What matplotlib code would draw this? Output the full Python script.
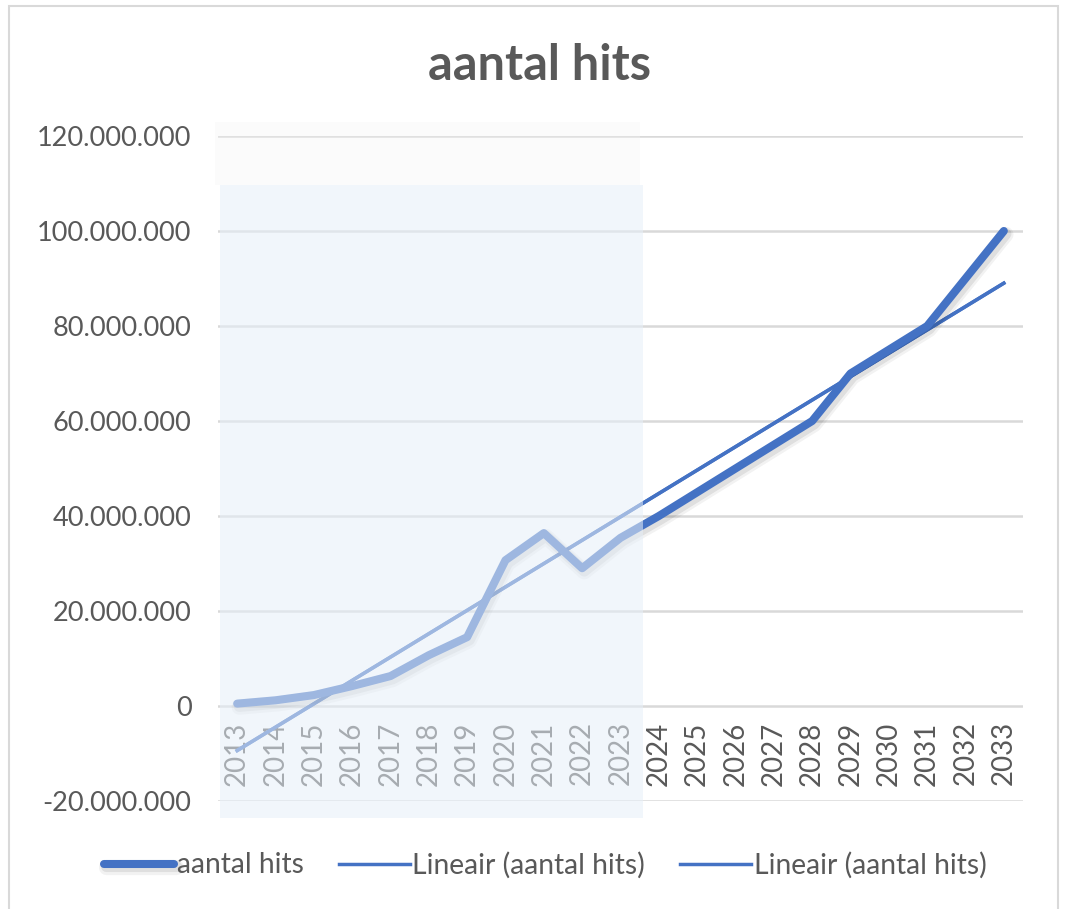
import numpy as np
import matplotlib
matplotlib.use('Agg')
import matplotlib.pyplot as plt
import matplotlib.patheffects as pe
from matplotlib.patches import Rectangle
from matplotlib.ticker import FuncFormatter

# data
years = [str(y) for y in range(2013, 2034)]
hits = [500_000, 1_200_000, 2_300_000, 4_200_000, 6_300_000, 10_700_000, 14_500_000,
        30_700_000, 36_400_000, 29_000_000, 35_400_000,
        40_000_000, 45_000_000, 50_000_000, 55_000_000, 60_000_000,
        70_000_000, 75_000_000, 80_000_000, 90_000_000, 100_000_000]
yticks = [-20_000_000, 0, 20_000_000, 40_000_000, 60_000_000, 80_000_000, 100_000_000, 120_000_000]

plt.rcParams['font.family'] = ['Lato', 'DejaVu Sans']

W, H = 1071, 909
fig = plt.figure(figsize=(W / 100, H / 100), dpi=100)
ax = fig.add_axes([218 / W, 1 - 801 / H, 805 / W, 665 / H])

blue = '#4472C4'
x = np.arange(len(years))
shadow = [pe.SimpleLineShadow(offset=(1.5, -2.5), shadow_color='k', alpha=0.05, linewidth=11),
          pe.SimpleLineShadow(offset=(1.5, -2.0), shadow_color='k', alpha=0.08, linewidth=8),
          pe.Normal()]
ax.plot(x, hits, color=blue, lw=5.8, solid_capstyle='round', solid_joinstyle='round', zorder=3,
        label='aantal hits', path_effects=shadow)

# linear trendline (Excel "Lineair")
k, b = np.polyfit(x, hits, 1)
trend = k * x + b
ax.plot(x, trend, color=blue, lw=2.5, zorder=2, label='Lineair (aantal hits)')
ax.plot(x, trend, color=blue, lw=2.5, zorder=2, label='Lineair (aantal hits)')

ax.set_xlim(-0.5, len(years) - 0.5)
ax.set_ylim(-20_000_000, 120_000_000)
ax.spines['bottom'].set_position(('data', 0))
ax.set_yticks(yticks)
ax.yaxis.set_major_formatter(FuncFormatter(lambda v, p: f'{v:,.0f}'.replace(',', '.')))
ax.set_xticks(x)
ax.set_xticklabels(years)
ax.tick_params(axis='both', length=0, labelcolor='#595959')
ax.tick_params(axis='y', pad=19, labelsize=19.5)
ax.tick_params(axis='x', pad=11, labelsize=20, labelrotation=90)
ax.grid(axis='y', color='#d9d9d9', lw=1.8)
ax.set_axisbelow(True)
for s in ax.spines.values():
    s.set_visible(False)

fig.text(540 / W, 1 - 66 / H, 'aantal hits', ha='center', va='center', fontsize=35,
         fontweight='bold', color='#595959')

leg = fig.legend(loc='center', bbox_to_anchor=(545 / W, 1 - 865 / H), ncol=3, frameon=False,
                 fontsize=20.3, handlelength=2.5, handletextpad=0.1, columnspacing=1.25)
for t in leg.get_texts():
    t.set_color('#595959')

# outer chart border
fig.patches.append(Rectangle((9 / W, -0.02), 1049 / W, 1 - 6 / H + 0.02, transform=fig.transFigure,
                             fill=False, ec='#d9d9d9', lw=1.5))
# faded overlay on the historic part
fig.patches.append(Rectangle((215 / W, 1 - 185 / H), 425 / W, 63 / H, transform=fig.transFigure,
                             fc='#f2f2f2', ec='none', alpha=0.3, zorder=5))
fig.patches.append(Rectangle((220 / W, 1 - 818 / H), 423 / W, 633 / H, transform=fig.transFigure,
                             fc='#e6eff8', ec='none', alpha=0.556, zorder=5))

fig.savefig('out.png', dpi=100)
